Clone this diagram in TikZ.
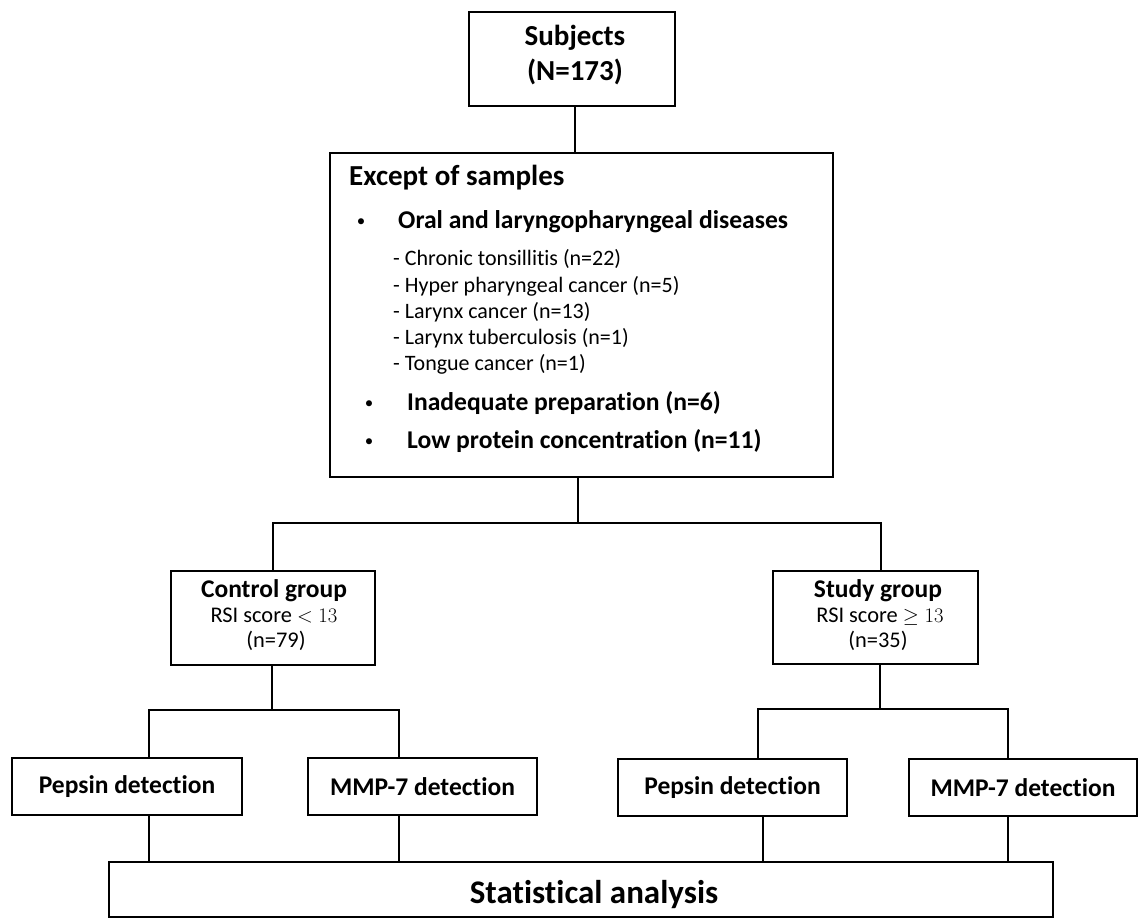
\documentclass[tikz,border=0pt]{standalone}
\usepackage{fontspec}
\setmainfont{Carlito}[Ligatures={NoCommon,NoRequired,NoContextual},Contextuals=NoAlternate]
\begin{document}
\begin{tikzpicture}[x=1bp,y=-1bp,
  box/.style={draw, line width=1.8bp, inner sep=0pt},
  conn/.style={line width=1.8bp},
  fsubj/.style={font=\fontsize{29bp}{34bp}\selectfont\bfseries, anchor=base, inner sep=0pt},
  fexc/.style={font=\fontsize{29bp}{33bp}\selectfont\bfseries, anchor=base west, inner sep=0pt},
  fhead/.style={font=\fontsize{25.6bp}{30bp}\selectfont\bfseries, anchor=base west, inner sep=0pt},
  fbul/.style={font=\fontsize{17bp}{20bp}\selectfont, anchor=base, inner sep=0pt},
  fsub/.style={font=\fontsize{22bp}{26bp}\selectfont, anchor=base west, inner sep=0pt},
  fgrp/.style={font=\fontsize{25.5bp}{28bp}\selectfont\bfseries, anchor=base, inner sep=0pt},
  frsi/.style={font=\fontsize{22.4bp}{26bp}\selectfont, anchor=base, inner sep=0pt},
  fdet/.style={font=\fontsize{25.5bp}{30bp}\selectfont\bfseries},
  fstat/.style={font=\fontsize{33bp}{38bp}\selectfont\bfseries, anchor=base, inner sep=0pt}
]
\useasboundingbox (0,0) rectangle (1139,919);

% boxes
\node[box, minimum width=206bp, minimum height=94bp] (subj) at (572,59) {};
\node[fsubj] (subjA) at (575,45) {Subjects};
\node[fsubj] (subjB) at (575,80) {(N=173)};

\node[box, minimum width=503bp, minimum height=324bp] (exc) at (581.5,315) {};
\node[fexc] (e0) at (349,185) {Except of samples};
\node[fbul] (b1) at (361,226) {•};
\node[fhead] (e1) at (398,228) {Oral and laryngopharyngeal diseases};
\node[fsub] (s1) at (393,265) {- Chronic tonsillitis (n=22)};
\node[fsub] (s2) at (393,292) {- Hyper pharyngeal cancer (n=5)};
\node[fsub] (s3) at (393,318) {- Larynx cancer (n=13)};
\node[fsub] (s4) at (393,344) {- Larynx tuberculosis (n=1)};
\node[fsub] (s5) at (393,370) {- Tongue cancer (n=1)};
\node[fbul] (b2) at (369,408) {•};
\node[fhead] (e2) at (407,410) {Inadequate preparation (n=6)};
\node[fbul] (b3) at (369,446) {•};
\node[fhead] (e3) at (407,448) {Low protein concentration (n=11)};

\node[box, minimum width=204bp, minimum height=94bp] (ctrl) at (273,618) {};
\node[fgrp] (c1) at (274,597) {Control group};
\node[frsi] (c2) at (274,622) {RSI score $<13$};
\node[frsi] (c3) at (276,647) {(n=79)};

\node[box, minimum width=205bp, minimum height=93bp] (stud) at (875.5,617.5) {};
\node[fgrp] (d1) at (878,597) {Study group};
\node[frsi] (d2) at (880,622) {RSI score $\geq13$};
\node[frsi] (d3) at (878,647) {(n=35)};

\node[box, fdet, minimum width=230bp, minimum height=57bp] (pepL) at (127,786.5) {Pepsin detection};
\node[box, fdet, minimum width=229bp, minimum height=57bp] (mmpL) at (422.5,786.5) {MMP-7 detection};
\node[box, fdet, minimum width=229bp, minimum height=57bp] (pepR) at (732.5,787.5) {Pepsin detection};
\node[box, fdet, minimum width=228bp, minimum height=57bp] (mmpR) at (1023,787.5) {MMP-7 detection};

\node[box, minimum width=944bp, minimum height=55bp] (stat) at (581,889.5) {};
\node[fstat] (statT) at (594,903) {Statistical analysis};

% junction coordinates
\coordinate (j1) at (578,523);
\coordinate (gL) at (273,523);
\coordinate (gR) at (881,523);
\coordinate (cV) at (272,710);
\coordinate (cL) at (149,710);
\coordinate (cR) at (399,710);
\coordinate (sV) at (880,709);
\coordinate (sL) at (758,709);
\coordinate (sR) at (1008,709);
\coordinate (pR) at (763,840);

% connectors
\draw[conn] (subj.south -| subjA) -- (subjA |- exc.north);
\draw[conn] (exc.south -| j1) -- (j1);
\draw[conn] (ctrl.north -| gL) -- (gL) -- (gR) -- (gR |- stud.north);

\draw[conn] (ctrl.south -| cV) -- (cV);
\draw[conn] (pepL.north -| cL) -- (cL) -- (cR) -- (cR |- mmpL.north);
\draw[conn] (stud.south -| sV) -- (sV);
\draw[conn] (pepR.north -| sL) -- (sL) -- (sR) -- (sR |- mmpR.north);

\draw[conn] (pepL.south -| cL) -- (cL |- stat.north);
\draw[conn] (mmpL.south -| cR) -- (cR |- stat.north);
\draw[conn] (pepR.south -| pR) -- (pR |- stat.north);
\draw[conn] (mmpR.south -| sR) -- (sR |- stat.north);
\end{tikzpicture}
\end{document}
